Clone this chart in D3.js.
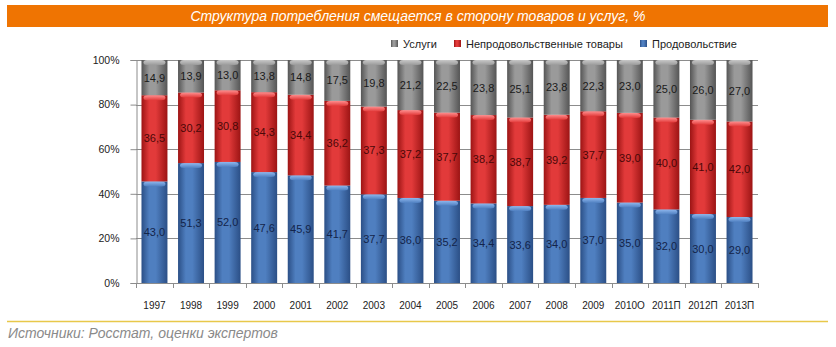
<!DOCTYPE html>
<html>
<head>
<meta charset="utf-8">
<script src="https://cdn.jsdelivr.net/npm/d3@7"></script>
<style>
  body { margin: 0; background: #fff; }
  text { font-family: "Liberation Sans", Arial, sans-serif; }
</style>
</head>
<body>
<script>
'use strict';

// chart values
const years = ['1997', '1998', '1999', '2000', '2001', '2002', '2003', '2004', '2005',
  '2006', '2007', '2008', '2009', '2010О', '2011П', '2012П', '2013П'];
const food = [43.0, 51.3, 52.0, 47.6, 45.9, 41.7, 37.7, 36.0, 35.2, 34.4, 33.6, 34.0, 37.0, 35.0, 32.0, 30.0, 29.0];
const nonFood = [36.5, 30.2, 30.8, 34.3, 34.4, 36.2, 37.3, 37.2, 37.7, 38.2, 38.7, 39.2, 37.7, 39.0, 40.0, 41.0, 42.0];
const services = [14.9, 13.9, 13.0, 13.8, 14.8, 17.5, 19.8, 21.2, 22.5, 23.8, 25.1, 23.8, 22.3, 23.0, 25.0, 26.0, 27.0];
const seriesNames = ['Продовольствие', 'Непродовольственные товары', 'Услуги'];
const yTicks = [0, 0.2, 0.4, 0.6, 0.8, 1];

const m = { left: 136, right: 758, top: 60, bottom: 283 };

const svg = d3.select('body').append('svg')
  .attr('width', 836)
  .attr('height', 347);

// colours per series: dark edge, light middle, top cap, label
const pal = [
  { key: 'food', dark: '#2b4f86', mid: '#4f7fc0', cap: '#8fb8ee', label: '#13244a' },
  { key: 'nonfood', dark: '#9c1414', mid: '#e23a3a', cap: '#ff9090', label: '#4a0808' },
  { key: 'serv', dark: '#555555', mid: '#9a9a9a', cap: '#c8c8c8', label: '#1a1a1a' }
];

const defs = svg.append('defs');
pal.forEach((p) => {
  const g = defs.append('linearGradient').attr('id', 'g-' + p.key)
    .attr('x1', 0).attr('x2', 1).attr('y1', 0).attr('y2', 0);
  g.append('stop').attr('offset', '0%').attr('stop-color', p.dark);
  g.append('stop').attr('offset', '30%').attr('stop-color', p.mid);
  g.append('stop').attr('offset', '55%').attr('stop-color', p.mid);
  g.append('stop').attr('offset', '100%').attr('stop-color', p.dark);
  const c = defs.append('linearGradient').attr('id', 'c-' + p.key)
    .attr('x1', 0).attr('x2', 0).attr('y1', 0).attr('y2', 1);
  c.append('stop').attr('offset', '0%').attr('stop-color', p.cap);
  c.append('stop').attr('offset', '100%').attr('stop-color', p.mid);
});

// title bar
svg.append('rect')
  .attr('x', 7).attr('y', 5)
  .attr('width', 821).attr('height', 22)
  .attr('fill', '#ef7402');
svg.append('text')
  .attr('x', 418).attr('y', 21)
  .attr('text-anchor', 'middle')
  .style('font-size', '14px')
  .style('font-style', 'italic')
  .attr('fill', '#fff')
  .text('Структура потребления смещается в сторону товаров и услуг, %');

// legend
const legendItems = [
  { name: seriesNames[2], p: pal[2], x: 391 },
  { name: seriesNames[1], p: pal[1], x: 454 },
  { name: seriesNames[0], p: pal[0], x: 640 }
];
const lg = svg.selectAll('.legend').data(legendItems).enter().append('g')
  .attr('class', 'legend')
  .attr('transform', (d) => 'translate(' + d.x + ',40)');
lg.append('rect').attr('width', 7).attr('height', 7)
  .attr('fill', (d) => 'url(#g-' + d.p.key + ')');
lg.append('text').attr('x', 12).attr('y', 7.5)
  .style('font-size', '11px').attr('fill', '#222')
  .text((d) => d.name);

// scales
const x = d3.scaleBand()
  .domain(years)
  .range([m.left, m.right])
  .paddingInner(0.29)
  .paddingOuter(0.15);

const y = d3.scaleLinear()
  .domain([0, 1])
  .range([m.bottom, m.top]);

// gridlines
svg.append('g').selectAll('line')
  .data(yTicks.slice(1)).enter().append('line')
  .attr('x1', m.left).attr('x2', m.right)
  .attr('y1', (d) => Math.round(y(d)) + 0.5)
  .attr('y2', (d) => Math.round(y(d)) + 0.5)
  .attr('stroke', '#8c8c8c').attr('stroke-width', 1);

// y axis
const yAxis = d3.axisLeft(y).tickValues(yTicks).tickSize(6).tickPadding(11)
  .tickFormat(d3.format('.0%'));
const yg = svg.append('g')
  .attr('transform', 'translate(' + (m.left + 0.5) + ',0)')
  .call(yAxis);
yg.select('.domain').attr('stroke', '#8c8c8c');
yg.selectAll('.tick line').attr('stroke', '#8c8c8c');
yg.selectAll('text').style('font-size', '10.5px').attr('fill', '#222')
  .style('font-family', '"Liberation Sans", Arial, sans-serif');

// stacked, normalised data
const rows = years.map((yr, i) => ({ year: yr, vals: [food[i], nonFood[i], services[i]] }));
const stackData = [];
rows.forEach((r) => {
  const tot = d3.sum(r.vals);
  let acc = 0;
  r.vals.forEach((v, k) => {
    stackData.push({ year: r.year, k: k, v: v, y0: acc / tot, y1: (acc + v) / tot });
    acc += v;
  });
});

const bw = x.bandwidth();
const segs = svg.append('g').selectAll('g.seg')
  .data(stackData).enter().append('g').attr('class', 'seg');

segs.append('rect')
  .attr('x', (d) => x(d.year))
  .attr('y', (d) => y(d.y1))
  .attr('width', bw)
  .attr('height', (d) => y(d.y0) - y(d.y1))
  .attr('fill', (d) => 'url(#g-' + pal[d.k].key + ')');

// light top cap of each segment
segs.append('rect')
  .attr('x', (d) => x(d.year) + 2)
  .attr('y', (d) => y(d.y1))
  .attr('width', bw - 4)
  .attr('height', 5)
  .attr('rx', 4).attr('ry', 2.5)
  .attr('fill', (d) => 'url(#c-' + pal[d.k].key + ')');

// value labels
segs.append('text')
  .attr('x', (d) => x(d.year) + bw / 2)
  .attr('y', (d) => (y(d.y0) + y(d.y1)) / 2 + 4)
  .attr('text-anchor', 'middle')
  .style('font-size', '11px')
  .attr('fill', (d) => pal[d.k].label)
  .text((d) => d.v.toFixed(1).replace('.', ','));

// x axis: ticks at band boundaries
svg.append('line')
  .attr('x1', m.left).attr('x2', m.right)
  .attr('y1', m.bottom + 0.5).attr('y2', m.bottom + 0.5)
  .attr('stroke', '#8c8c8c');
const boundaries = years.map((yr) => x(yr) - x.step() * x.paddingInner() / 2).concat([m.right]);
svg.append('g').selectAll('line')
  .data(boundaries).enter().append('line')
  .attr('x1', (d) => Math.round(d) + 0.5).attr('x2', (d) => Math.round(d) + 0.5)
  .attr('y1', m.bottom).attr('y2', m.bottom + 5)
  .attr('stroke', '#8c8c8c');
svg.append('g').selectAll('text')
  .data(years).enter().append('text')
  .attr('x', (d) => x(d) + bw / 2)
  .attr('y', 309)
  .attr('text-anchor', 'middle')
  .style('font-size', '10px')
  .attr('fill', '#222')
  .text((d) => d);

// footer
svg.append('line')
  .attr('x1', 7).attr('x2', 828)
  .attr('y1', 321.5).attr('y2', 321.5)
  .attr('stroke', '#e8c84a').attr('stroke-width', 1.5);
svg.append('text')
  .attr('x', 8).attr('y', 338)
  .style('font-size', '14px')
  .style('font-style', 'italic')
  .attr('fill', '#8a8a8a')
  .text('Источники: Росстат, оценки экспертов');
</script>
</body>
</html>
